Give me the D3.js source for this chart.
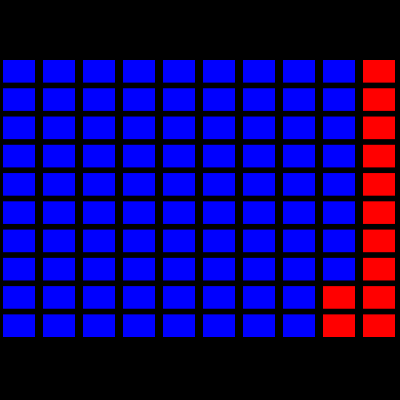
<!DOCTYPE html>
<html>
<head>
<meta charset="utf-8">
<script src="https://cdn.jsdelivr.net/npm/d3@7"></script>
<style>
  html, body { margin: 0; padding: 0; background: #000; }
</style>
</head>
<body>
<div id="viz"></div>
<script>
// waffle: 100 cells, filled column by column
const categories = ["blue", "red"];
const counts = [88, 12];
const colors = ["#0000ff", "#ff0000"];
const nCols = 10;
const nRows = 10;

const width = 400;
const height = 400;

const svg = d3.select("#viz").append("svg")
  .attr("width", width)
  .attr("height", height)
  .style("display", "block");

svg.append("rect")
  .attr("width", width)
  .attr("height", height)
  .attr("fill", "#000");

const x = d3.scaleBand().domain(d3.range(nCols)).range([3, 395]).paddingInner(0.2);
const y = d3.scaleBand().domain(d3.range(nRows)).range([60, 337]).paddingInner(0.2);
const color = d3.scaleOrdinal().domain(categories).range(colors);

// expand counts into one entry per cell
const cells = [];
categories.forEach((c, k) => {
  for (let j = 0; j < counts[k]; j++) cells.push(c);
});

svg.selectAll("rect.cell")
  .data(cells)
  .join("rect")
  .attr("class", "cell")
  .attr("x", (d, i) => x(Math.floor(i / nRows)))
  .attr("y", (d, i) => y(i % nRows))
  .attr("width", x.bandwidth())
  .attr("height", y.bandwidth())
  .attr("fill", d => color(d));
</script>
</body>
</html>
